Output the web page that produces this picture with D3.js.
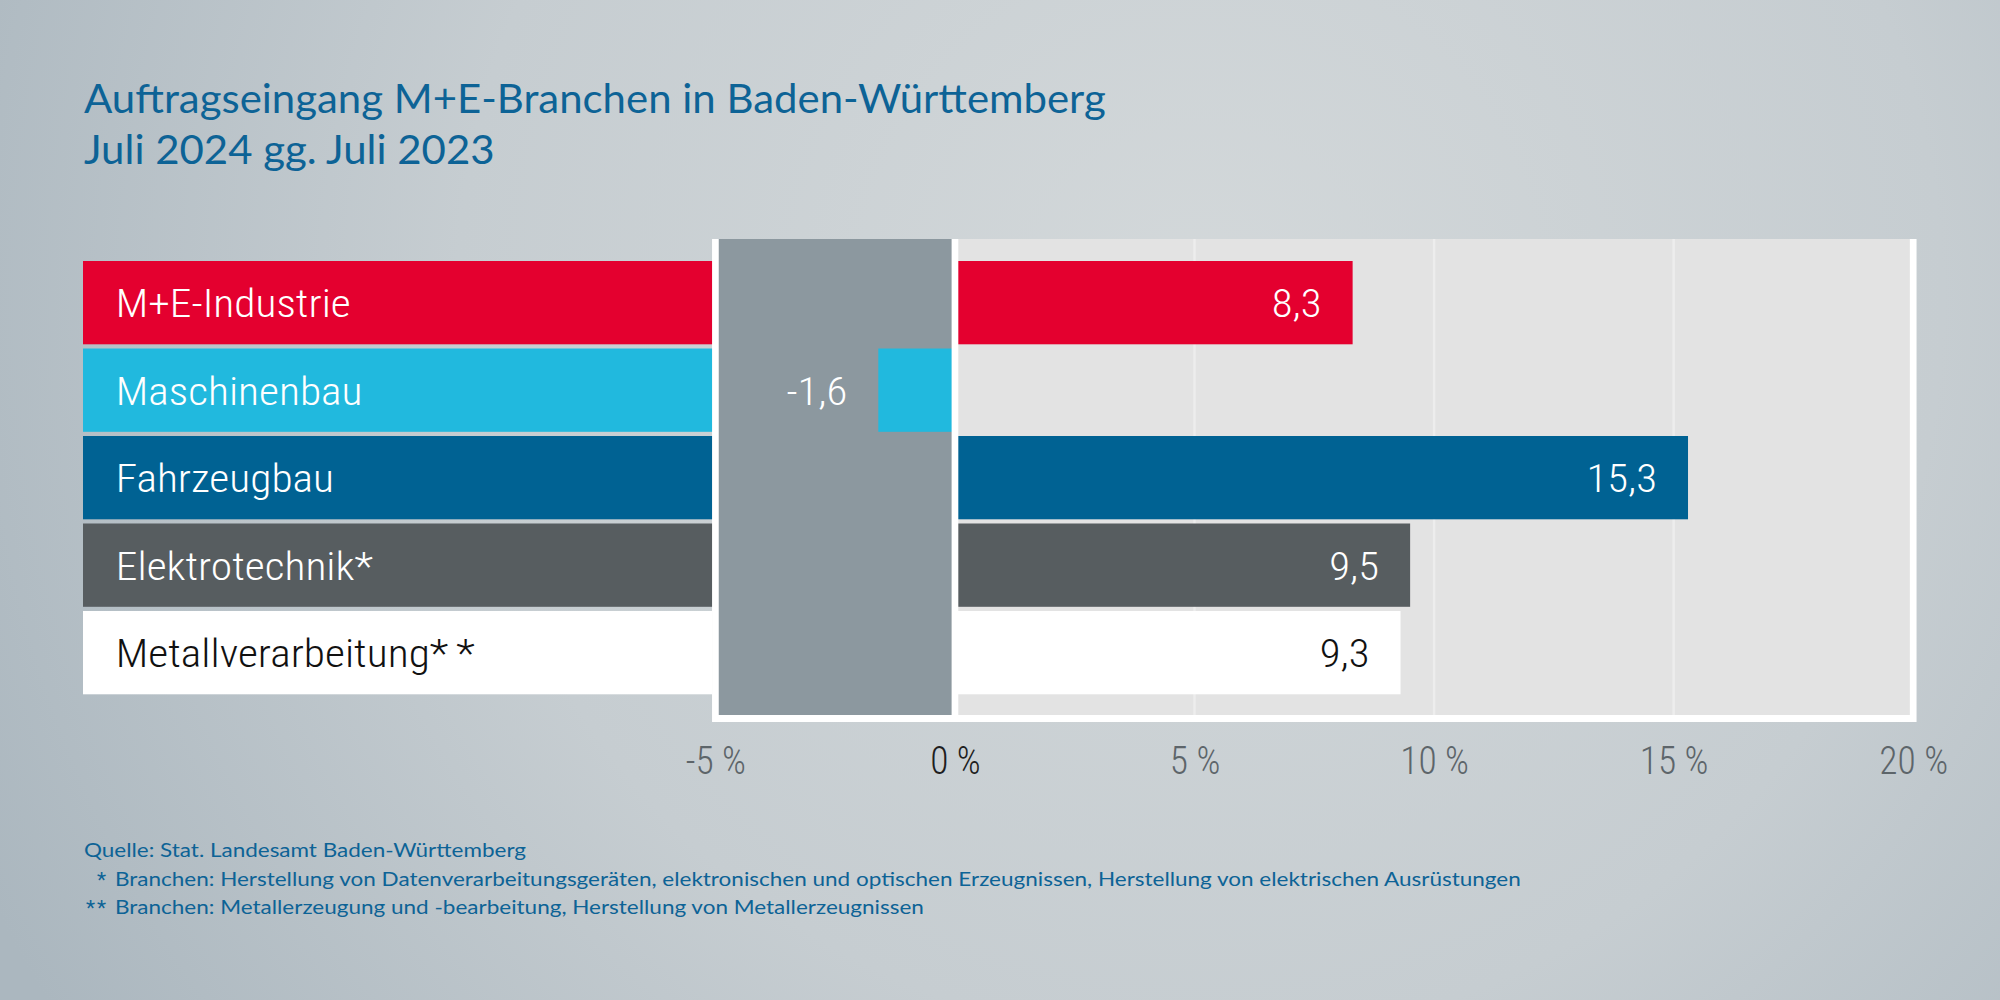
<!DOCTYPE html>
<html>
<head>
<meta charset="utf-8">
<script src="https://cdn.jsdelivr.net/npm/d3@7"></script>
<style>
  html, body { margin: 0; padding: 0; }
  body { width: 2000px; height: 1000px; overflow: hidden; }
</style>
</head>
<body>
<svg id="chart" width="2000" height="1000"></svg>
<script>
// ---- data ----
const titleLines = ["Auftragseingang M+E-Branchen in Baden-Württemberg", "Juli 2024 gg. Juli 2023"];
const categories = ["M+E-Industrie", "Maschinenbau", "Fahrzeugbau", "Elektrotechnik*", "Metallverarbeitung**"];
const values = [8.3, -1.6, 15.3, 9.5, 9.3];
const barColors = ["#e4002f", "#21b9de", "#006293", "#575d60", "#ffffff"];
const labelColors = ["#ffffff", "#ffffff", "#ffffff", "#ffffff", "#111111"];
const tickValues = [-5, 0, 5, 10, 15, 20];
const tickLabels = ["-5 %", "0 %", "5 %", "10 %", "15 %", "20 %"];
const gridValues = [5, 10, 15];
const sourceLine = "Quelle: Stat. Landesamt Baden-Württemberg";
const noteMarks = ["*", "**"];
const noteTexts = [
  "Branchen: Herstellung von Datenverarbeitungsgeräten, elektronischen und optischen Erzeugnissen, Herstellung von elektrischen Ausrüstungen",
  "Branchen: Metallerzeugung und -bearbeitung, Herstellung von Metallerzeugnissen"
];

// ---- setup ----
const svg = d3.select("#chart");
const BLUE = "#0d6396";
const condensed = "'Liberation Sans Narrow', 'Roboto Condensed', 'DejaVu Sans Condensed', 'Liberation Sans', Roboto, sans-serif";
const humanist = "Lato, 'Open Sans', 'Noto Sans', sans-serif";

function fitGroup(sel, refNode, target) {
  const k = target / refNode.getComputedTextLength();
  sel.each(function () {
    const w = this.getComputedTextLength();
    this.setAttribute("textLength", (w * k).toFixed(2));
    this.setAttribute("lengthAdjust", "spacingAndGlyphs");
  });
}

// background
const defs = svg.append("defs");
const rg = defs.append("radialGradient").attr("id", "bg")
  .attr("gradientUnits", "userSpaceOnUse").attr("cx", 1200).attr("cy", 300).attr("r", 1350);
rg.append("stop").attr("offset", 0).attr("stop-color", "#d3d8da");
rg.append("stop").attr("offset", 0.55).attr("stop-color", "#c6cdd1");
rg.append("stop").attr("offset", 1).attr("stop-color", "#abb7bf");
svg.append("rect").attr("width", 2000).attr("height", 1000).attr("fill", "url(#bg)");

// scales
const x = d3.scaleLinear().domain([-5, 20]).range([715.4, 1913.2]);
const y = d3.scaleBand().domain(categories).range([261, 694.3]).paddingInner(0.048);
const bw = y.bandwidth();
const B = 3.35; // half border
const panelTop = 239, innerBottom = 715, panelBottom = 722;

// panel
svg.append("rect").attr("x", x(-5) - B).attr("y", panelTop)
  .attr("width", x(20) - x(-5) + 2 * B).attr("height", panelBottom - panelTop).attr("fill", "#ffffff");
svg.append("rect").attr("x", x(-5) + B).attr("y", panelTop)
  .attr("width", x(0) - x(-5) - B).attr("height", innerBottom - panelTop).attr("fill", "#8c989f");
svg.append("rect").attr("x", x(0)).attr("y", panelTop)
  .attr("width", x(20) - B - x(0)).attr("height", innerBottom - panelTop).attr("fill", "#e3e3e3");
svg.append("g").selectAll("line").data(gridValues).join("line")
  .attr("x1", d => x(d)).attr("x2", d => x(d))
  .attr("y1", panelTop).attr("y2", innerBottom)
  .attr("stroke", "#ededed").attr("stroke-width", 2.4);

const rows = categories.map((c, i) => ({ c, v: values[i], col: barColors[i], tc: labelColors[i] }));

// left label bars
svg.append("g").selectAll("rect").data(rows).join("rect")
  .attr("x", 83).attr("y", d => y(d.c))
  .attr("width", x(-5) - B - 83).attr("height", bw)
  .attr("fill", d => d.col);

// value bars
svg.append("g").selectAll("rect").data(rows).join("rect")
  .attr("x", d => Math.min(x(0), x(d.v))).attr("y", d => y(d.c))
  .attr("width", d => Math.abs(x(d.v) - x(0))).attr("height", bw)
  .attr("fill", d => d.col);

// zero line
svg.append("line").attr("x1", x(0)).attr("x2", x(0))
  .attr("y1", panelTop).attr("y2", panelBottom)
  .attr("stroke", "#ffffff").attr("stroke-width", 2 * B);

// category labels
const catLabels = svg.append("g").selectAll("text").data(rows).join("text")
  .attr("x", 115.8).attr("y", d => y(d.c) + bw / 2 + 14.7)
  .attr("font-family", condensed).attr("font-size", 38).attr("font-weight", 300)
  .attr("fill", d => d.tc)
  .text(d => d.c.replace(/\*+$/, ""));
catLabels.filter(d => /\*+$/.test(d.c)).append("tspan")
  .attr("letter-spacing", d => (d.c.match(/\*+$/)[0].length > 1 ? 7 : 0))
  .text(d => d.c.match(/\*+$/)[0]);
fitGroup(catLabels, catLabels.nodes()[0], 235);

// value labels
const fmt = v => d3.format(".1f")(v).replace(".", ",").replace("−", "-");
const valLabels = svg.append("g").selectAll("text").data(rows).join("text")
  .attr("x", d => x(d.v) - 31).attr("y", d => y(d.c) + bw / 2 + 14.7)
  .attr("text-anchor", "end")
  .attr("font-family", condensed).attr("font-size", 38).attr("font-weight", 300)
  .attr("fill", d => d.tc)
  .text(d => fmt(d.v));
fitGroup(valLabels, valLabels.nodes()[2], 70.6);

// axis labels
const axisG = svg.append("g").attr("transform", "translate(0,774)");
const axis = d3.axisBottom(x).tickValues(tickValues).tickSize(0)
  .tickFormat((d, i) => tickLabels[i]);
axisG.call(axis);
axisG.select(".domain").remove();
const tickTexts = axisG.selectAll("text")
  .attr("y", 0).attr("dy", 0)
  .attr("font-family", condensed).attr("font-size", 38).attr("font-weight", 300)
  .attr("fill", d => (d === 0 ? "#1e1e1e" : "#5d656a"));
fitGroup(tickTexts, tickTexts.nodes()[5], 68.8);

// title
const titleTexts = svg.append("g").selectAll("text").data(titleLines).join("text")
  .attr("x", 84).attr("y", (d, i) => 113 + i * 51)
  .attr("font-family", humanist).attr("font-size", 41)
  .attr("fill", BLUE).text(d => d);
fitGroup(titleTexts, titleTexts.nodes()[0], 1021.7);

// footnotes
const fnG = svg.append("g").attr("font-family", humanist).attr("font-size", 19.5).attr("fill", BLUE);
const src = fnG.append("text").attr("x", 84).attr("y", 856.7).text(sourceLine);
const notes = fnG.selectAll("text.note").data(noteTexts).join("text").attr("class", "note")
  .attr("x", 115).attr("y", (d, i) => 885.5 + i * 28.3).text(d => d);
fnG.selectAll("text.mark").data(noteMarks).join("text").attr("class", "mark")
  .attr("x", 108).attr("y", (d, i) => 885.5 + i * 28.3 + 1)
  .attr("text-anchor", "end").attr("letter-spacing", 2)
  .attr("font-family", condensed).attr("font-size", 21).text(d => d);
fitGroup(fnG.selectAll("text.note"), notes.nodes()[0], 1405.8);
fitGroup(src, src.node(), 442);
</script>
</body>
</html>
